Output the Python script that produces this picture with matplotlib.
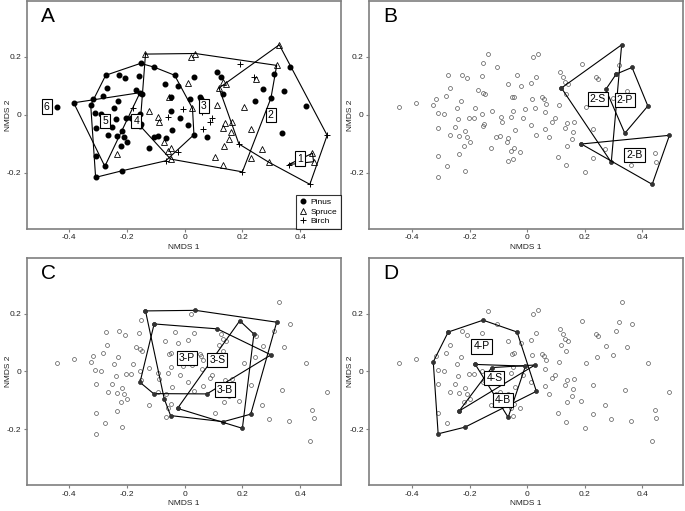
import matplotlib
matplotlib.use("Agg")
import matplotlib.pyplot as plt
import numpy as np

plt.rcParams['font.family'] = ['Liberation Sans', 'DejaVu Sans']

# NMDS site scores by dominant tree species
pinus_x = [-0.153, -0.106, 0.364, -0.274, -0.227, -0.208, -0.157, -0.035, 0.031, 0.113,
           0.126, 0.309, -0.268, -0.170, -0.155, -0.147, -0.067, -0.023, -0.282, -0.231,
           -0.317, -0.326, -0.444, -0.385, -0.310, -0.290, -0.245, -0.240, -0.251, -0.267,
           -0.309, -0.203, -0.186, -0.156, -0.155, -0.150, -0.217, -0.236, -0.209, -0.199,
           -0.220, -0.308, -0.277, -0.216, -0.309, -0.108, -0.094, -0.124, -0.066, -0.049,
           -0.047, -0.043, -0.016, 0.012, 0.032, 0.018, 0.053, 0.057, 0.064, 0.077,
           0.134, 0.299, 0.244, 0.273, 0.345, 0.339, 0.419]
pinus_y = [0.177, 0.164, 0.163, 0.136, 0.138, 0.125, 0.133, 0.136, 0.131, 0.147,
           0.129, 0.140, 0.092, 0.085, 0.076, 0.072, 0.105, 0.098, 0.064, 0.048,
           0.053, 0.033, 0.028, 0.041, 0.006, 0.002, 0.024, -0.016, -0.044, -0.071,
           -0.045, -0.010, -0.010, 0.001, -0.038, -0.031, -0.056, -0.074, -0.077, -0.095,
           -0.107, -0.143, -0.178, -0.193, -0.216, -0.077, -0.072, -0.116, -0.080, 0.014,
           0.062, -0.053, -0.013, -0.037, -0.069, 0.055, 0.061, 0.053, 0.038, -0.078,
           0.072, 0.057, 0.048, 0.087, 0.083, -0.064, 0.030]

spruce_x = [-0.136, 0.021, 0.037, 0.328, 0.319, 0.132, 0.119, 0.143, 0.246, 0.012,
            -0.235, -0.123, -0.091, -0.089, -0.071, -0.053, -0.046, -0.057, -0.049, 0.027,
            0.111, 0.133, 0.140, 0.138, 0.155, 0.160, 0.163, 0.106, 0.134, 0.206,
            0.229, 0.229, 0.269, 0.292, 0.443, 0.447]
spruce_y = [0.209, 0.200, 0.211, 0.241, 0.170, 0.113, 0.092, 0.105, 0.122, 0.108,
            -0.137, 0.013, -0.007, -0.026, -0.095, 0.061, -0.114, -0.125, -0.153, 0.022,
            0.032, -0.047, -0.030, -0.107, -0.085, -0.060, -0.025, -0.145, -0.174, 0.028,
            -0.048, -0.148, -0.117, -0.164, -0.133, -0.162]

birch_x = [0.191, 0.240, -0.180, -0.066, -0.057, -0.025, -0.006, 0.061, 0.062, 0.087,
           0.096, 0.188, 0.200, 0.494, 0.360, 0.434]
birch_y = [0.175, 0.129, 0.024, -0.159, -0.007, -0.128, 0.018, 0.009, -0.049, -0.024,
           -0.013, -0.101, -0.197, -0.071, -0.172, -0.240]

# convex hull vertices of the site groups (panel A)
hull_groups = {
    '1': [(0.360, -0.172), (0.443, -0.133), (0.447, -0.162)],
    '2': [(0.119, 0.092), (0.328, 0.241), (0.494, -0.071), (0.434, -0.240),
          (0.292, -0.164), (0.188, -0.101)],
    '3': [(-0.136, 0.209), (0.037, 0.211), (0.319, 0.170), (0.299, 0.057),
          (0.200, -0.197), (-0.049, -0.153), (-0.155, -0.038)],
    '4': [(-0.274, 0.136), (-0.153, 0.177), (-0.106, 0.164), (-0.035, 0.136),
          (0.027, 0.022), (0.032, -0.069), (-0.066, -0.159), (-0.216, -0.193),
          (-0.309, -0.216), (-0.326, 0.033)],
    '5': [(-0.385, 0.041), (-0.155, 0.076), (-0.277, -0.178)],
    '6': [(-0.444, 0.028)],
}
# hulls of group x species (panels B-D)
hull_2 = {
    '2-S': [(0.119, 0.092), (0.328, 0.241), (0.292, -0.164)],
    '2-P': [(0.309, 0.140), (0.364, 0.163), (0.419, 0.030), (0.339, -0.064), (0.273, 0.087)],
    '2-B': [(0.188, -0.101), (0.494, -0.071), (0.434, -0.240)],
}
hull_3 = {
    '3-P': [(-0.106, 0.164), (0.113, 0.147), (0.299, 0.057), (0.077, -0.078),
            (-0.108, -0.077), (-0.155, -0.038)],
    '3-S': [(-0.136, 0.209), (0.037, 0.211), (0.319, 0.170), (0.229, -0.148),
            (0.134, -0.174), (-0.049, -0.153), (-0.071, -0.095)],
    '3-B': [(-0.025, -0.128), (0.191, 0.175), (0.240, 0.129), (0.200, -0.197)],
}
hull_4 = {
    '4-P': [(-0.274, 0.136), (-0.153, 0.177), (-0.035, 0.136), (0.032, -0.069),
            (-0.216, -0.193), (-0.309, -0.216), (-0.326, 0.033)],
    '4-S': [(-0.236, -0.137), (-0.123, 0.013), (0.027, 0.022)],
    '4-B': [(-0.180, 0.024), (-0.006, 0.018), (-0.066, -0.159)],
}

# where the group labels sit
label_pos = {
    '1': (0.400, -0.151), '2': (0.298, -0.001), '3': (0.067, 0.030),
    '4': (-0.168, -0.021), '5': (-0.276, -0.021), '6': (-0.479, 0.028),
    '2-S': (0.246, 0.053), '2-P': (0.339, 0.051), '2-B': (0.372, -0.139),
    '3-P': (0.007, 0.046), '3-S': (0.113, 0.040), '3-B': (0.140, -0.063),
    '4-P': (-0.158, 0.086), '4-S': (-0.114, -0.023), '4-B': (-0.083, -0.100),
}

all_x = pinus_x + spruce_x + birch_x
all_y = pinus_y + spruce_y + birch_y

W, H = 685, 511
fig = plt.figure(figsize=(W / 100, H / 100), dpi=100)

boxes = {
    'A': (26.7, 1.0, 340.7, 228.7),
    'B': (369.3, 1.0, 683.0, 228.7),
    'C': (26.7, 258.0, 340.7, 485.0),
    'D': (369.3, 258.0, 683.0, 485.0),
}

spine_col = '#7f7f7f'


def make_ax(letter):
    x0, y0, x1, y1 = boxes[letter]
    ax = fig.add_axes([x0 / W, 1 - y1 / H, (x1 - x0) / W, (y1 - y0) / H])
    ax.set_xlim(-0.548, 0.541)
    ax.set_ylim(-0.393, 0.392)
    ax.set_xticks([-0.4, -0.2, 0, 0.2, 0.4])
    ax.set_xticklabels(['-0.4', '-0.2', '0', '0.2', '0.4'])
    ax.set_yticks([-0.2, 0, 0.2])
    ax.set_yticklabels(['-0.2', '0', '0.2'])
    for s in ax.spines.values():
        s.set_color(spine_col)
        s.set_linewidth(1.2)
    ax.tick_params(length=2.5, width=0.8, color=spine_col, labelsize=6,
                   labelcolor='#222222', pad=1.5)
    ax.set_xlabel('NMDS 1', fontsize=6, color='#222222', labelpad=2)
    ax.set_ylabel('NMDS 2', fontsize=6, color='#222222')
    ax.yaxis.set_label_coords(-0.048, 0.5)
    ax.text(0.045, 0.975, letter, transform=ax.transAxes, ha='left', va='top',
            fontsize=15)
    return ax


def draw_hull(ax, verts, marker=None):
    xs = [v[0] for v in verts] + [verts[0][0]]
    ys = [v[1] for v in verts] + [verts[0][1]]
    if marker:
        ax.plot(xs, ys, color='black', lw=0.8, marker='o', ms=2.2,
                mfc='#333333', mec='#333333', zorder=3)
    else:
        ax.plot(xs, ys, color='black', lw=0.8, zorder=3)


def box_label(ax, name, fs):
    x, y = label_pos[name]
    ax.text(x, y, name, ha='center', va='center', fontsize=fs, zorder=5,
            bbox=dict(boxstyle='square,pad=0.2', fc='white', ec='black', lw=0.8))


# Panel A
axA = make_ax('A')
axA.plot(pinus_x, pinus_y, 'o', color='black', ms=3.3, label='Pinus', zorder=4)
axA.plot(spruce_x, spruce_y, '^', mfc='none', mec='black', ms=4, mew=0.6,
         label='Spruce', zorder=4)
axA.plot(birch_x, birch_y, '+', color='black', ms=5, mew=0.7, label='Birch', zorder=4)
for g, verts in hull_groups.items():
    if len(verts) > 1:
        draw_hull(axA, verts)
    box_label(axA, g, 7.5)
leg = axA.legend(loc='lower right', fontsize=6, frameon=True, fancybox=False,
                 edgecolor='black', borderaxespad=0, handlelength=1.0,
                 handletextpad=0.4, borderpad=0.4, labelspacing=0.2)
leg.get_frame().set_linewidth(0.8)

# Panels B-D
for letter, hulls in [('B', hull_2), ('C', hull_3), ('D', hull_4)]:
    ax = make_ax(letter)
    ax.plot(all_x, all_y, 'o', mfc='none', mec='#555555', ms=2.8, mew=0.5, zorder=2)
    for name, verts in hulls.items():
        draw_hull(ax, verts, marker=True)
    for name in hulls:
        box_label(ax, name, 7.5)

fig.savefig('out.png', dpi=100)
